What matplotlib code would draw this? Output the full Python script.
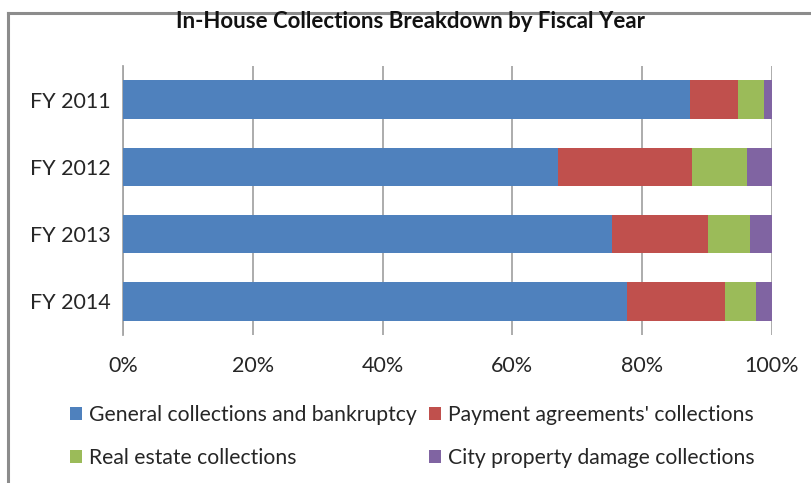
import numpy as np
import matplotlib.pyplot as plt
from matplotlib.lines import Line2D

plt.rcParams['font.family'] = ['Lato', 'DejaVu Sans']

# data (shares of in-house collections, %)
years = ['FY 2011', 'FY 2012', 'FY 2013', 'FY 2014']
general = [87.3, 67.0, 75.3, 77.6]
payment = [7.5, 20.6, 14.9, 15.1]
real_estate = [4.0, 8.6, 6.4, 4.8]
city_damage = [1.2, 3.8, 3.4, 2.5]

series = [
    ("General collections and bankruptcy", general, '#4F81BD'),
    ("Payment agreements' collections", payment, '#C0504D'),
    ("Real estate collections", real_estate, '#9BBB59'),
    ("City property damage collections", city_damage, '#8064A2'),
]

fig = plt.figure(figsize=(8.11, 4.83), dpi=100)
ax = fig.add_axes([123 / 811, 1 - 335 / 483, (772 - 123) / 811, (335 - 66) / 483])

y = np.arange(len(years))
left = np.zeros(len(years))
for name, vals, col in series:
    vals = np.array(vals)
    ax.barh(y, vals, left=left, height=0.57, color=col, label=name, zorder=3)
    left += vals

ax.set_ylim(len(years) - 0.5, -0.5)
ax.set_xlim(0, 100)
ax.set_yticks(y)
ax.set_yticklabels(years, fontsize=15.5, color='#262626')
ax.set_xticks(np.arange(0, 101, 20))
ax.set_xticklabels([f'{v}%' for v in range(0, 101, 20)], fontsize=15.5, color='#262626')
ax.grid(axis='x', color='#A6A6A6', linewidth=1.3, zorder=0)
for s in ['top', 'right', 'bottom']:
    ax.spines[s].set_visible(False)
ax.spines['left'].set_color('#A6A6A6')
ax.spines['left'].set_linewidth(1.3)
ax.tick_params(axis='y', length=0, pad=9)
ax.tick_params(axis='x', length=0, pad=15)

fig.text(410 / 811, 1 - 21 / 483, 'In-House Collections Breakdown by Fiscal Year',
         ha='center', va='center', fontsize=16, fontweight='bold', color='#111111')

# outer chart frame (left and top edges visible)
fig.add_artist(Line2D([8 / 811, 8 / 811], [0, 1 - 13 / 483], color='#8C8C8C', linewidth=2.2))
fig.add_artist(Line2D([8 / 811, 1], [1 - 13 / 483, 1 - 13 / 483], color='#8C8C8C', linewidth=2.2))

handles, labels = ax.get_legend_handles_labels()
order = [0, 2, 1, 3]  # row-major reading order in a two-column legend
fig.legend([handles[i] for i in order], [labels[i] for i in order], ncol=2, loc='upper left',
           bbox_to_anchor=(51 / 811, 1 - 386 / 483), frameon=False, fontsize=15.2,
           handlelength=0.55, handleheight=0.55, handletextpad=0.35,
           columnspacing=0.6, labelspacing=1.1, labelcolor='#262626')

fig.savefig('out.png', dpi=100)
